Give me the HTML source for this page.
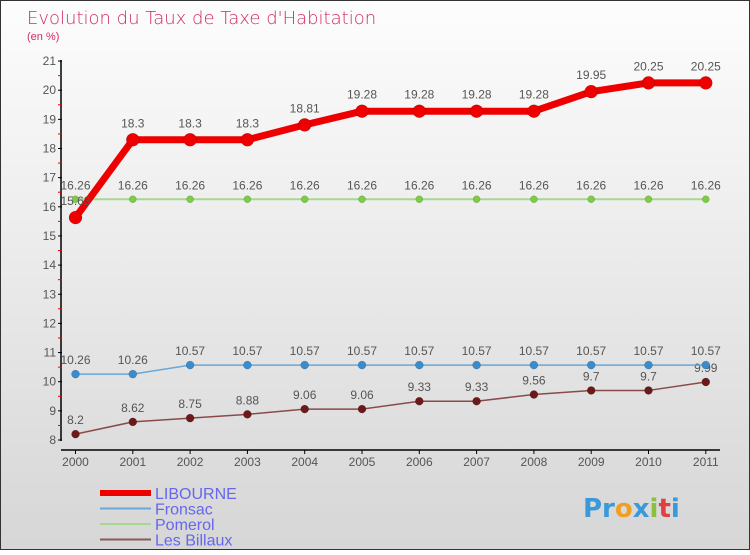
<!DOCTYPE html>
<html><head><meta charset="utf-8"><style>
html,body{margin:0;padding:0;}
body{width:750px;height:550px;overflow:hidden;font-family:"Liberation Sans",sans-serif;}
</style></head><body>
<svg id="c" width="750" height="550" xmlns="http://www.w3.org/2000/svg">
<defs><linearGradient id="bg" x1="0" y1="0" x2="0" y2="1"><stop offset="0" stop-color="#fdfdfd"/><stop offset="1" stop-color="#d6d6d6"/></linearGradient></defs>
<rect x="0.5" y="0.5" width="749" height="549" fill="url(#bg)" stroke="#333"/>
<text x="27" y="24" font-size="18" fill="#d02a6a" font-family="DejaVu Sans, sans-serif" font-weight="200">Evolution du Taux de Taxe d'Habitation</text>
<text x="27" y="40" font-size="11" fill="#d02a6a">(en %)</text>
<g id="axes"></g><g id="series"></g><g id="legend"></g>
<text x="583" y="517" font-size="26" font-weight="bold" fill="#3a9ad9" font-family="DejaVu Sans, sans-serif">Pr<tspan fill="#f0a020">o</tspan><tspan fill="#3a9ad9">x</tspan><tspan fill="#8ac040">i</tspan><tspan fill="#e04040">t</tspan><tspan fill="#3a9ad9">i</tspan></text>
</svg>
<script>
const years=[2000,2001,2002,2003,2004,2005,2006,2007,2008,2009,2010,2011];
const yTicks=[8,9,10,11,12,13,14,15,16,17,18,19,20,21];
const libourne=[15.63,18.3,18.3,18.3,18.81,19.28,19.28,19.28,19.28,19.95,20.25,20.25];
const fronsac=[10.26,10.26,10.57,10.57,10.57,10.57,10.57,10.57,10.57,10.57,10.57,10.57];
const pomerol=[16.26,16.26,16.26,16.26,16.26,16.26,16.26,16.26,16.26,16.26,16.26,16.26];
const billaux=[8.2,8.62,8.75,8.88,9.06,9.06,9.33,9.33,9.56,9.7,9.7,9.99];
const NS="http://www.w3.org/2000/svg";
const X=i=>75.5+i*57.3;
const Y=v=>440-(v-8)*29.15;
function el(t,a,p){const e=document.createElementNS(NS,t);for(const k in a)e.setAttribute(k,a[k]);p.appendChild(e);return e;}
const ax=document.getElementById('axes');
let l=el('line',{x1:61,y1:60,x2:61,y2:441,stroke:'#000','stroke-width':1.5},ax);


l=el('line',{x1:61,y1:450,x2:720,y2:450,stroke:'#000','stroke-width':1.5},ax);


yTicks.forEach((v,i)=>{
 el('line',{x1:58,y1:Y(v),x2:62,y2:Y(v),stroke:'#000'},ax);
 if(i<yTicks.length-1) el('line',{x1:58,y1:Y(v+0.5),x2:62,y2:Y(v+0.5),stroke:'#e00'},ax);
 const t=el('text',{x:56,y:Y(v)+4,'font-size':12,fill:'#555','text-anchor':'end'},ax);
 t.textContent=v;
 
 
});
years.forEach((yr,i)=>{
 el('line',{x1:X(i),y1:450,x2:X(i),y2:454,stroke:'#000'},ax);
 const t=el('text',{x:X(i),y:466,'font-size':12,fill:'#555','text-anchor':'middle'},ax);
 t.textContent=yr;
 
 
});
const sg=document.getElementById('series');
function series(name,data,color,w,r,dot){
 const g=el('g',{},sg);
 
 
 el('polyline',{points:data.map((v,i)=>X(i)+','+Y(v)).join(' '),fill:'none',stroke:color,'stroke-width':w,'stroke-linejoin':'round'},g);
 data.forEach((v,i)=>{
  const c=el('circle',{cx:X(i),cy:Y(v),r:r,fill:dot,stroke:'rgba(0,0,0,0.25)','stroke-width':0.5},g);
  
  
  const t=el('text',{x:X(i),y:Y(v)-(r+6),'font-size':12,fill:'#555','text-anchor':'middle'},g);
  t.textContent=v;
  
  
 });
}
series('billaux',billaux,'#8a4a4a',1.5,4,'#6a1a1a');
series('fronsac',fronsac,'#6aa8d8',1.5,4,'#3a8ccc');
series('pomerol',pomerol,'#a8d890',2,3.5,'#7ccc44');
series('libourne',libourne,'#ee0000',7,6.5,'#ee0000');
const lg=document.getElementById('legend');
[['LIBOURNE','#ee0000',6],['Fronsac','#6aa8d8',2],['Pomerol','#a8d890',2],['Les Billaux','#8a5a5a',2]].forEach((d,i)=>{
 const y=493+i*15.5;
 const g=el('g',{},lg);
 
 
 el('line',{x1:100,y1:y,x2:151,y2:y,stroke:d[1],'stroke-width':d[2]},g);
 const t=el('text',{x:155,y:y+6,'font-size':16,fill:'#6666ee'},g);
 t.textContent=d[0];
});
</script>
</body></html>
